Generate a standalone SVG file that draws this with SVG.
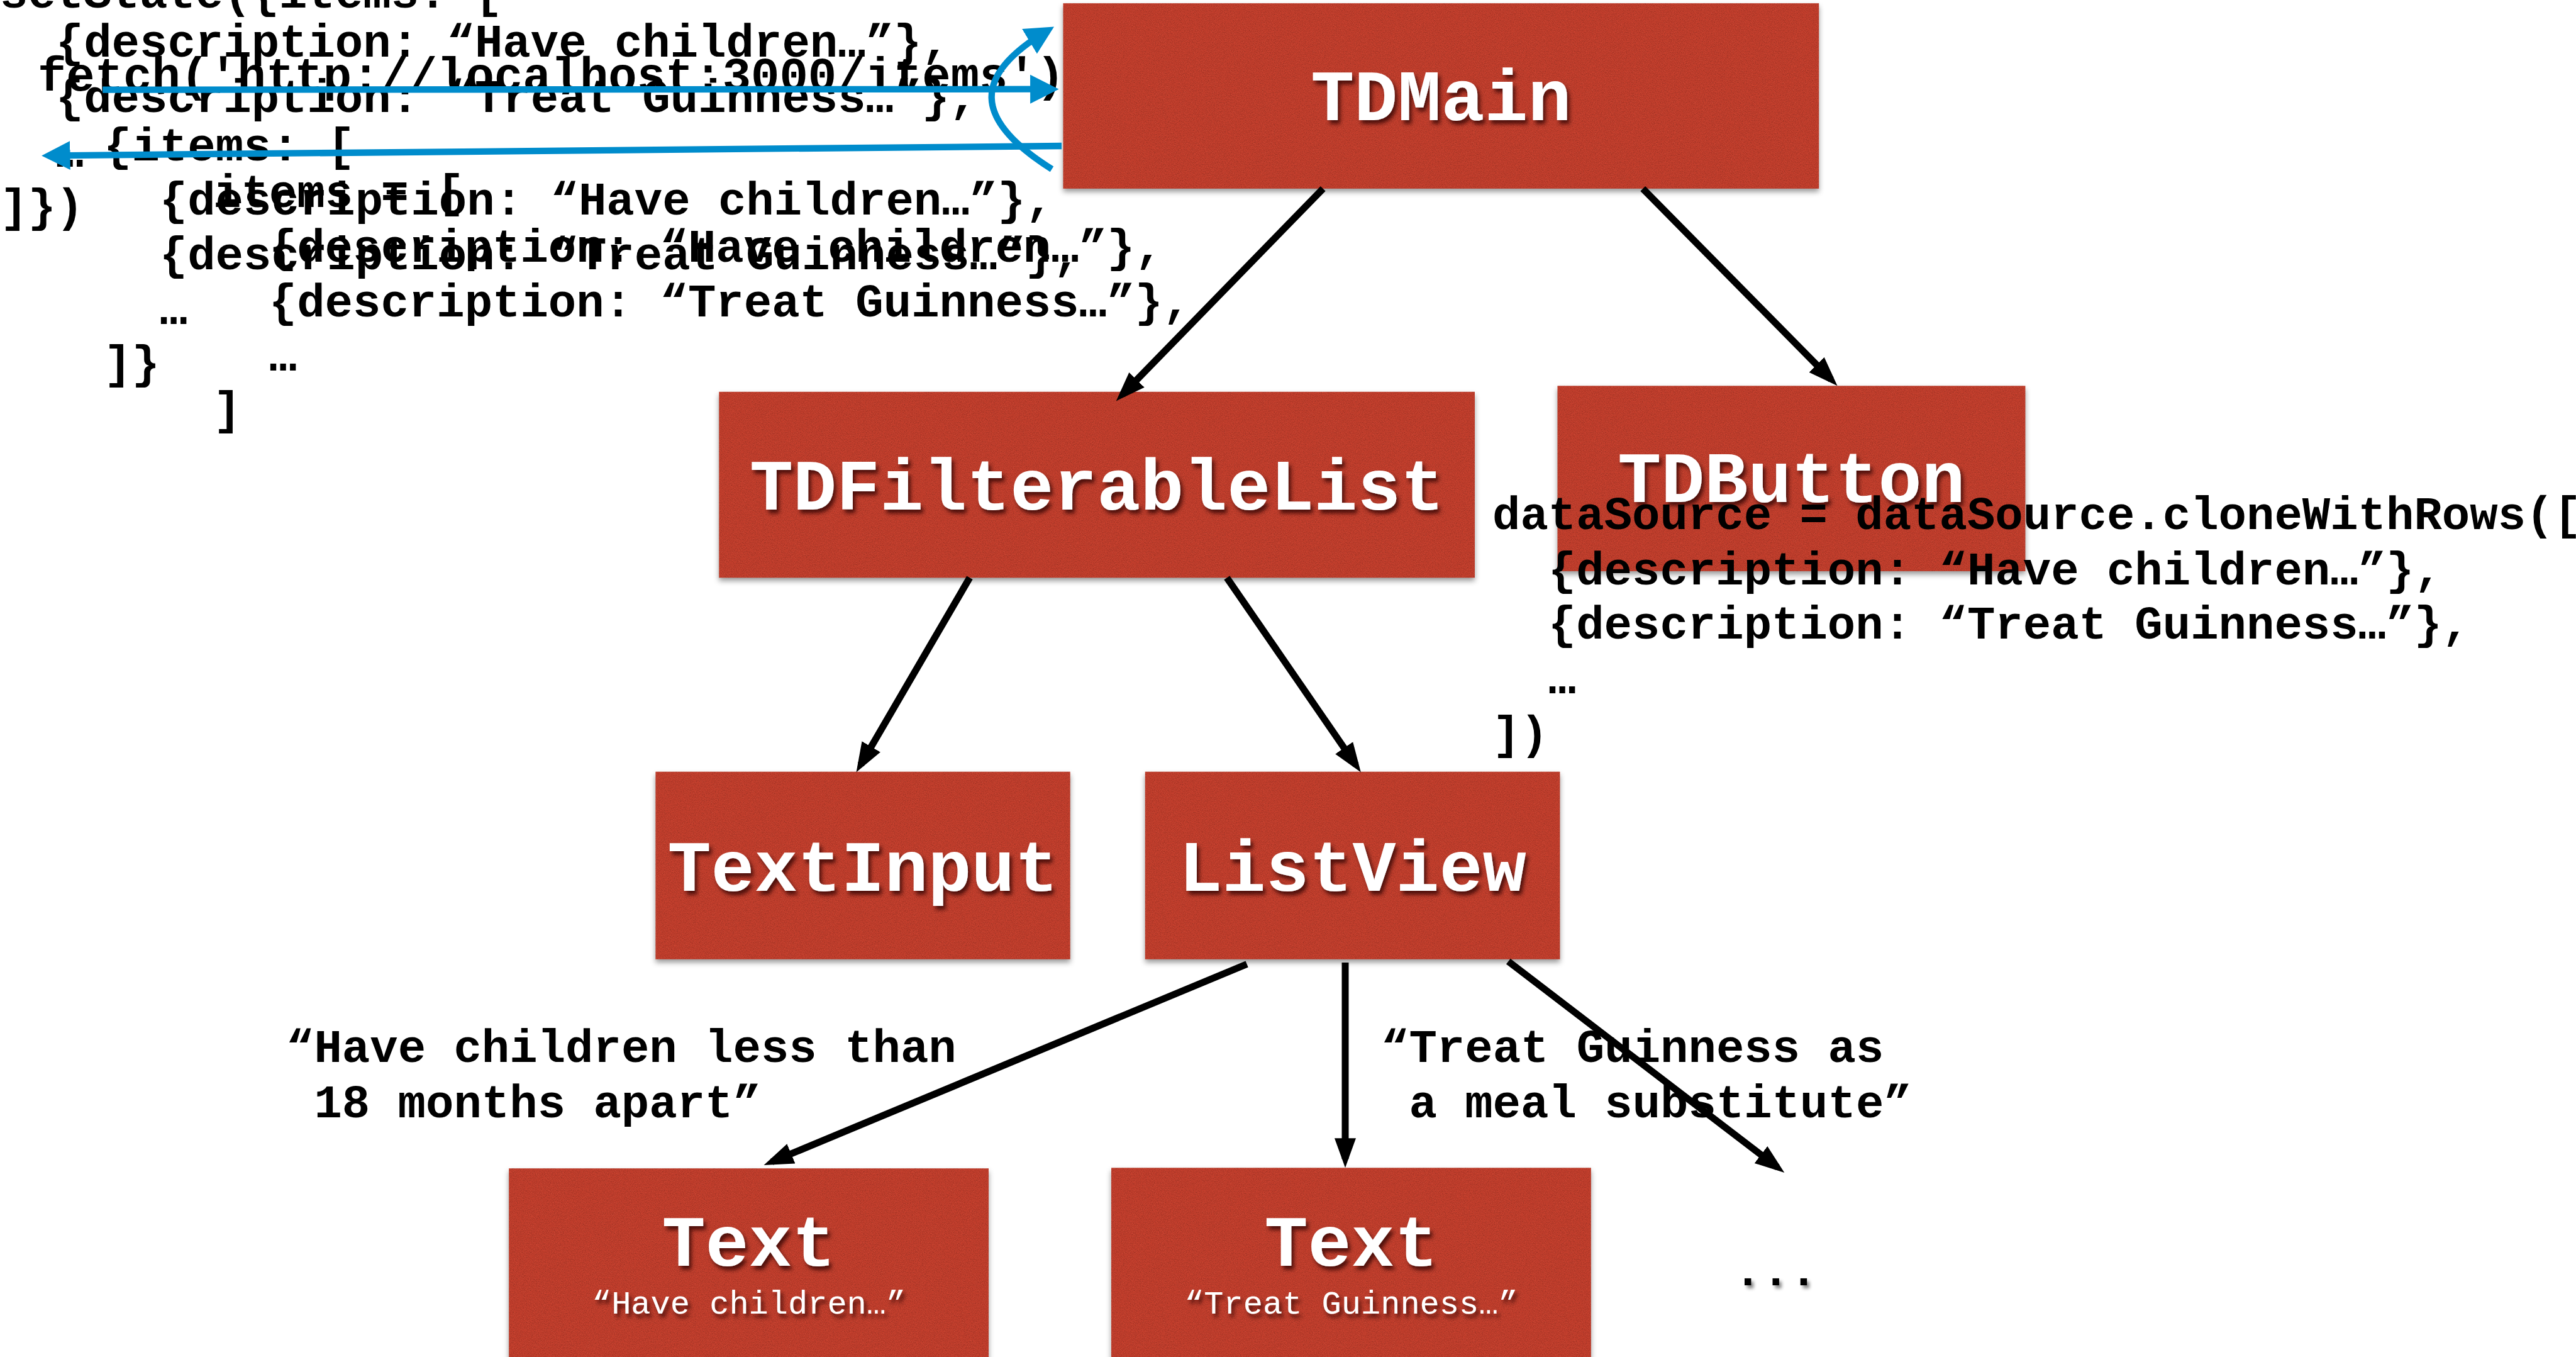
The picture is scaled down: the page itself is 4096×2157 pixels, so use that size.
<svg xmlns="http://www.w3.org/2000/svg" width="4096" height="2157" viewBox="0 0 4096 2157">
  <style>
    .box { fill: #c53f2d; }
    .label { font-family: "Liberation Mono", "Courier New", monospace; font-weight: bold; font-size: 115px; fill: #ffffff; text-anchor: middle; }
    .sub { font-family: "Liberation Mono", "Courier New", monospace; font-size: 52px; fill: #ffffff; text-anchor: middle; }
    .code { font-family: "Liberation Mono", "Courier New", monospace; font-weight: bold; font-size: 74px; fill: #000000; }
    .fetch { font-size: 75.6px; }
    .edge { fill: none; stroke: #000000; stroke-width: 11; }
    .flow { fill: none; stroke: #008ccc; stroke-width: 10.3; }
  </style>
  <defs>
    <!-- grainy red card with a soft shadow underneath -->
    <filter id="card" x="-3%" y="-3%" width="106%" height="115%" color-interpolation-filters="sRGB">
      <feTurbulence type="fractalNoise" baseFrequency="0.8" numOctaves="2" seed="7" result="noise"/>
      <feColorMatrix in="noise" type="matrix" values="0 0 0 0 0  0 0 0 0 0  0 0 0 0 0  0.5 0 0 0 -0.21" result="speck"/>
      <feColorMatrix in="noise" type="matrix" values="0 0 0 0 1  0 0 0 0 0.8  0 0 0 0 0.7  -0.4 0 0 0 0.16" result="glint"/>
      <feComposite in="speck" in2="SourceGraphic" operator="in" result="speckIn"/>
      <feComposite in="glint" in2="SourceGraphic" operator="in" result="glintIn"/>
      <feGaussianBlur in="SourceAlpha" stdDeviation="4" result="blur"/>
      <feOffset in="blur" dy="5" result="off"/>
      <feFlood flood-color="#000000" flood-opacity="0.4"/>
      <feComposite in2="off" operator="in" result="shade"/>
      <feMerge>
        <feMergeNode in="shade"/>
        <feMergeNode in="SourceGraphic"/>
        <feMergeNode in="speckIn"/>
        <feMergeNode in="glintIn"/>
      </feMerge>
    </filter>
    <!-- embossed white label -->
    <filter id="lift" x="-5%" y="-20%" width="110%" height="150%">
      <feDropShadow dx="4" dy="6" stdDeviation="3" flood-color="#2a0602" flood-opacity="0.75"/>
    </filter>
    <filter id="dotshade" x="-20%" y="-50%" width="140%" height="200%">
      <feDropShadow dx="4" dy="5" stdDeviation="2.5" flood-color="#000000" flood-opacity="0.45"/>
    </filter>
    <marker id="head" markerUnits="userSpaceOnUse" markerWidth="48" markerHeight="36" viewBox="0 -18 48 36" refX="33" refY="0" orient="auto">
      <path d="M0,-17 L47,0 L0,17 Z" fill="#000000"/>
    </marker>
    <marker id="blueHead" markerUnits="userSpaceOnUse" markerWidth="46" markerHeight="48" viewBox="0 -24 46 48" refX="31.5" refY="0" orient="auto">
      <path d="M0,-23 L45.5,0 L0,23 Z" fill="#008ccc"/>
    </marker>
  </defs>

  <rect width="4096" height="2157" fill="#ffffff"/>

  <!-- component tree -->
  <g id="nodes">
    <g id="TDMain">
      <rect class="box" x="1690.5" y="5.2" width="1201.7" height="294.6" filter="url(#card)"/>
      <text class="label" x="2291.4" y="190.5" filter="url(#lift)">TDMain</text>
    </g>
    <g id="TDFilterableList">
      <rect class="box" x="1143.3" y="622.8" width="1201.7" height="295.5" filter="url(#card)"/>
      <text class="label" x="1744.2" y="809.8" filter="url(#lift)">TDFilterableList</text>
    </g>
    <g id="TDButton">
      <rect class="box" x="2476.5" y="613.3" width="743.9" height="294.6" filter="url(#card)"/>
      <text class="label" x="2848.4" y="797.8" filter="url(#lift)">TDButton</text>
    </g>
    <g id="TextInput">
      <rect class="box" x="1042.4" y="1226.7" width="659.3" height="298.1" filter="url(#card)"/>
      <text class="label" x="1372" y="1415.8" filter="url(#lift)">TextInput</text>
    </g>
    <g id="ListView">
      <rect class="box" x="1820.8" y="1226.7" width="659.6" height="298.1" filter="url(#card)"/>
      <text class="label" x="2150.6" y="1415.8" filter="url(#lift)">ListView</text>
    </g>
    <g id="Text1">
      <rect class="box" x="809.2" y="1857.2" width="762.8" height="320" filter="url(#card)"/>
      <text class="label" x="1190.6" y="2011.8" filter="url(#lift)">Text</text>
      <text class="sub" x="1190.6" y="2088" filter="url(#lift)">“Have children…”</text>
    </g>
    <g id="Text2">
      <rect class="box" x="1767" y="1856.3" width="762.8" height="320" filter="url(#card)"/>
      <text class="label" x="2148.4" y="2011.8" filter="url(#lift)">Text</text>
      <text class="sub" x="2148.4" y="2088" filter="url(#lift)">“Treat Guinness…”</text>
    </g>
    <g id="more">
      <text class="code" x="2757" y="2043" filter="url(#dotshade)">...</text>
    </g>
  </g>

  <!-- code snippets -->
  <g id="snippets">
    <g id="setState">
      <text class="code" x="0" y="12">setState({items: [</text>
      <text class="code" x="88.8" y="90">{description: “Have children…”},</text>
      <text class="code" x="88.8" y="178">{description: “Treat Guinness…”},</text>
      <text class="code" x="88.8" y="265">…</text>
      <text class="code" x="0" y="352">]})</text>
    </g>
    <g id="fetch">
      <text class="code fetch" x="60" y="143.5">fetch('http://localhost:3000/items')</text>
    </g>
    <g id="response">
      <text class="code" x="165" y="255">{items: [</text>
      <text class="code" x="253.8" y="341">{description: “Have children…”},</text>
      <text class="code" x="253.8" y="428">{description: “Treat Guinness…”},</text>
      <text class="code" x="253.8" y="515">…</text>
      <text class="code" x="165" y="601">]}</text>
    </g>
    <g id="itemsArray">
      <text class="code" x="339" y="329">items = [</text>
      <text class="code" x="427.8" y="416">{description: “Have children…”},</text>
      <text class="code" x="427.8" y="502.5">{description: “Treat Guinness…”},</text>
      <text class="code" x="427.8" y="589">…</text>
      <text class="code" x="339" y="674">]</text>
    </g>
    <g id="dataSource">
      <text class="code" x="2373" y="841">dataSource = dataSource.cloneWithRows([</text>
      <text class="code" x="2461.8" y="928.6">{description: “Have children…”},</text>
      <text class="code" x="2461.8" y="1015.3">{description: “Treat Guinness…”},</text>
      <text class="code" x="2461.8" y="1102">…</text>
      <text class="code" x="2373" y="1189.7">])</text>
    </g>
    <g id="rowLabels">
      <text class="code" x="455" y="1688">“Have children less than</text>
      <text class="code" x="499.4" y="1775.6">18 months apart”</text>
      <text class="code" x="2196" y="1688">“Treat Guinness as</text>
      <text class="code" x="2240.4" y="1775.6">a meal substitute”</text>
    </g>
  </g>

  <!-- parent to child connectors -->
  <g id="connectors">
    <path class="edge" d="M2103.7,299.8 L1784.5,627.4" marker-end="url(#head)"/>
    <path class="edge" d="M2612.2,299.8 L2911.7,603.3" marker-end="url(#head)"/>
    <path class="edge" d="M1541.9,918.3 L1368.6,1215.4" marker-end="url(#head)"/>
    <path class="edge" d="M1950.8,918.3 L2155.9,1216" marker-end="url(#head)"/>
    <path class="edge" d="M1982.6,1532.5 L1227.5,1846.6" marker-end="url(#head)"/>
    <path class="edge" d="M2139,1530 L2139,1842.3" marker-end="url(#head)"/>
    <path class="edge" d="M2398.3,1528.2 L2826.2,1855.5" marker-end="url(#head)"/>
  </g>

  <!-- data flow: request, response, state update -->
  <g id="dataflow">
    <path class="flow" d="M163.2,142.6 L1669.6,141.7" marker-end="url(#blueHead)"/>
    <path class="flow" d="M1688,232 L80.1,247.3" marker-end="url(#blueHead)"/>
    <path class="flow" d="M1672.5,268.9 C1546.2,189 1546.2,120.3 1664,49.6" marker-end="url(#blueHead)"/>
  </g>
</svg>
